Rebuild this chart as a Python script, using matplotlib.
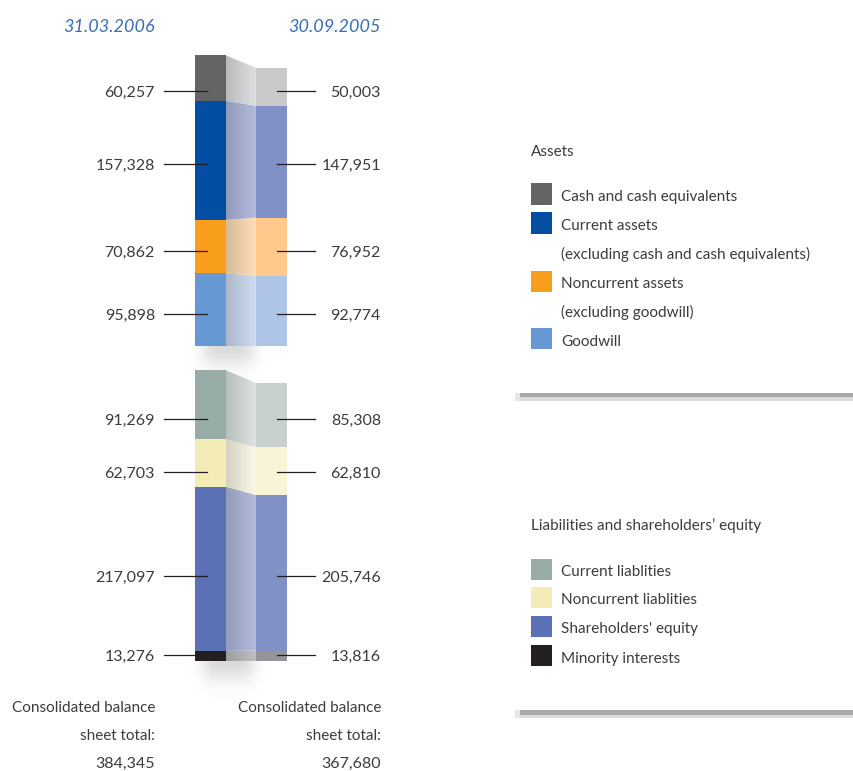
import numpy as np
import matplotlib
matplotlib.use("Agg")
import matplotlib.pyplot as plt
from matplotlib.patches import Polygon, Rectangle
from matplotlib.colors import to_rgb

plt.rcParams['font.family'] = ['Lato', 'DejaVu Sans']

# ---- data (top to bottom as printed) ----
dates = ["31.03.2006", "30.09.2005"]
asset_labels = ["Cash and cash equivalents", "Current assets", "Noncurrent assets", "Goodwill"]
asset_sub = [None, "(excluding cash and cash equivalents)", "(excluding goodwill)", None]
assets_2006 = [60257, 157328, 70862, 95898]
assets_2005 = [50003, 147951, 76952, 92774]
liab_labels = ["Current liablities", "Noncurrent liablities", "Shareholders' equity", "Minority interests"]
liab_2006 = [91269, 62703, 217097, 13276]
liab_2005 = [85308, 62810, 205746, 13816]
totals = [384345, 367680]

asset_colors_l = ["#636466", "#034ea2", "#f99d1c", "#6699d3"]
asset_colors_r = ["#c8c9cb", "#8290c8", "#fec98a", "#aec5e8"]
liab_colors_l = ["#99ada8", "#f3ecb6", "#5a71b5", "#231f20"]
liab_colors_r = ["#c7d0cf", "#f9f4d8", "#8290c8", "#939598"]

# layout: pixel rows of the value labels (top to bottom)
asset_label_rows = [91, 164, 251, 314]
liab_label_rows = [419, 472, 576, 655]

TEXT = "#3c3c3c"
BLUE = "#3a6db5"
FS = 11      # words
FN = 11.5    # numbers

W, H = 854, 771
K = 384345 / 290.7          # value units per pixel
BASE_PX = 661               # pixel row of liabilities baseline
ASSET_BASE_PX = 346


def py(p):
    """pixel row (from top) -> data y"""
    return (BASE_PX - p) * K


fig = plt.figure(figsize=(W / 100, H / 100), dpi=100)
ax = fig.add_axes([0, 0, 1, 1])
ax.set_xlim(0, W)
ax.set_ylim(py(H), py(0))
ax.set_axis_off()

XL, XR, BW = 195, 256, 31


def mix(c, other, t):
    a = np.array(to_rgb(c))
    b = np.array(to_rgb(other))
    return a * (1 - t) + b * t


def shadow(base):
    nx, ny = 80, 40
    xs = np.linspace(-1, 1, nx)
    ys = np.linspace(0, 1, ny)
    X, Y = np.meshgrid(xs, ys)
    a = 0.32 * np.exp(-(X / 0.6) ** 4) * np.exp(-(Y / 0.5) ** 2)
    img = np.zeros((ny, nx, 4))
    img[..., :3] = 0.55
    img[..., 3] = a
    ax.imshow(img, extent=(183, 274, base - 40 * K, base), origin="upper",
              aspect="auto", zorder=1, interpolation="bilinear")


def group(vals_l, vals_r, cols_l, cols_r, base, rows):
    shadow(base)
    bl = base + np.concatenate([[0], np.cumsum(vals_l[::-1])])
    br = base + np.concatenate([[0], np.cumsum(vals_r[::-1])])
    ax.bar([XL] * 4, vals_l[::-1], bottom=bl[:-1], width=BW, align="edge",
           color=cols_l[::-1], linewidth=0, zorder=3)
    ax.bar([XR] * 4, vals_r[::-1], bottom=br[:-1], width=BW, align="edge",
           color=cols_r[::-1], linewidth=0, zorder=3)
    # connectors with horizontal gradient
    for i, c in enumerate(cols_r[::-1]):
        c0 = mix(c, "#a8a8a8", 0.45)
        c1 = mix(c, "#ffffff", 0.4)
        grad = np.linspace(0, 1, 60)[None, :, None]
        img = c0 * (1 - grad) + c1 * grad
        lo, hi = min(bl[i], br[i]), max(bl[i + 1], br[i + 1])
        im = ax.imshow(img, extent=(XL + BW, XR, lo, hi), aspect="auto",
                       zorder=2, interpolation="bilinear")
        poly = Polygon([(XL + BW, bl[i]), (XL + BW, bl[i + 1]),
                        (XR, br[i + 1]), (XR, br[i])], closed=True,
                       transform=ax.transData, facecolor="none", edgecolor="none")
        ax.add_patch(poly)
        im.set_clip_path(poly)
    # value labels with leader lines
    for vl, vr, r in zip(vals_l, vals_r, rows):
        y = py(r)
        ax.plot([164, 207], [y, y], color="#231f20", lw=0.9, zorder=4)
        ax.plot([277, 315], [y, y], color="#231f20", lw=0.9, zorder=4)
        ax.text(155, y, f"{vl:,}", ha="right", va="center_baseline", fontsize=FN, color=TEXT)
        ax.text(381, y, f"{vr:,}", ha="right", va="center_baseline", fontsize=FN, color=TEXT)


group(np.array(assets_2006), np.array(assets_2005), asset_colors_l, asset_colors_r,
      py(ASSET_BASE_PX), asset_label_rows)
group(np.array(liab_2006), np.array(liab_2005), liab_colors_l, liab_colors_r,
      py(BASE_PX), liab_label_rows)

# dates
ax.text(155, py(26), dates[0], ha="right", va="center_baseline", fontsize=13, color=BLUE, style="italic")
ax.text(381, py(26), dates[1], ha="right", va="center_baseline", fontsize=13, color=BLUE, style="italic")

# totals
for x, t in zip([155, 381], totals):
    ax.text(x, py(706), "Consolidated balance", ha="right", va="center_baseline", fontsize=FS, color=TEXT)
    ax.text(x, py(734), "sheet total:", ha="right", va="center_baseline", fontsize=FS, color=TEXT)
    ax.text(x, py(762), f"{t:,}", ha="right", va="center_baseline", fontsize=FN, color=TEXT)


# legends
def legend_block(title, title_y, labels, subs, colors, rows):
    ax.text(531, py(title_y), title, ha="left", va="center_baseline", fontsize=FS, color=TEXT)
    for lab, sub, c, r in zip(labels, subs, colors, rows):
        ax.add_patch(Rectangle((531, py(r + 10.5)), 21, 21 * K, facecolor=c,
                               edgecolor="none", zorder=3))
        ax.text(561, py(r + 2), lab, ha="left", va="center_baseline", fontsize=FS, color=TEXT)
        if sub:
            ax.text(561, py(r + 30), sub, ha="left", va="center_baseline", fontsize=FS, color=TEXT)


def separator(p):
    ax.add_patch(Rectangle((520, py(p + 4.5)), W - 520, 4.5 * K, facecolor="#a9a9a9",
                           edgecolor="none"))
    ax.add_patch(Rectangle((520, py(p + 8)), W - 520, 3.5 * K, facecolor="#dcdcdc",
                           edgecolor="none"))
    ax.add_patch(Rectangle((515, py(p + 8)), 5, 8 * K, facecolor="#e6e6e6",
                           edgecolor="none"))


legend_block("Assets", 150, asset_labels, asset_sub, asset_colors_l, [194, 223, 281, 338])
separator(393)
legend_block("Liabilities and shareholders\u2019 equity", 524, liab_labels,
             [None] * 4, liab_colors_l, [569, 597, 626, 655])
separator(710)

fig.savefig("out.png", dpi=100)
